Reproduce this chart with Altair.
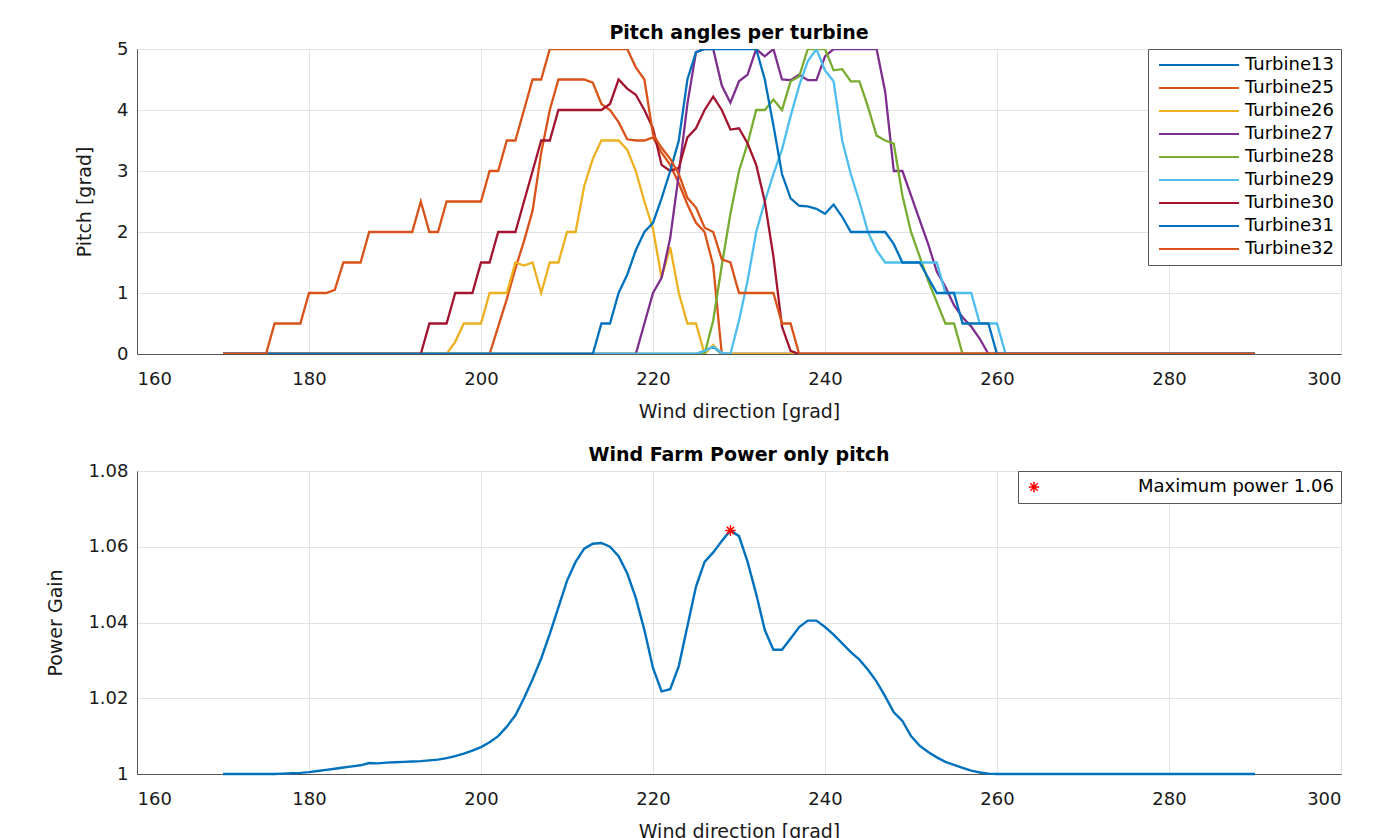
import altair as alt
import pandas as pd

# ---------------- data ----------------
deg = list(range(170, 291))

turbines = ["Turbine13", "Turbine25", "Turbine26", "Turbine27", "Turbine28",
            "Turbine29", "Turbine30", "Turbine31", "Turbine32"]
colors = ["#0072BD", "#D95319", "#EDB120", "#7E2F8E", "#77AC30",
          "#4DBEEE", "#A2142F", "#0072BD", "#D95319"]

# each series: first degree of the listed values; zero outside
t13_start, t13_vals = 226, [0.05, 0.12, 0.0]
t25_start, t25_vals = 201, [0.0, 0.45, 0.9, 1.4, 1.85, 2.35, 3.3, 4.0, 4.5, 4.5, 4.5, 4.5,
                            4.45, 4.1, 4.0, 3.8, 3.52, 3.5, 3.5, 3.55, 3.3, 3.1, 2.8, 2.45,
                            2.15, 2.0, 1.45, 0.0]
t26_start, t26_vals = 196, [0.0, 0.2, 0.5, 0.5, 0.5, 1.0, 1.0, 1.0, 1.5, 1.45, 1.5, 1.0, 1.5,
                            1.5, 2.0, 2.0, 2.75, 3.2, 3.5, 3.5, 3.5, 3.35, 3.0, 2.5, 2.05,
                            1.25, 1.75, 1.0, 0.5, 0.5, 0.0, 0.15, 0.0]
t27_start, t27_vals = 218, [0.0, 0.5, 1.0, 1.25, 1.9, 2.95, 4.1, 4.95, 5.0, 5.0, 4.4, 4.12,
                            4.47, 4.58, 5.0, 4.88, 5.0, 4.5, 4.49, 4.58, 4.49, 4.49, 4.88,
                            5.0, 5.0, 5.0, 5.0, 5.0, 5.0, 4.3, 3.0, 3.0, 2.6, 2.2, 1.8,
                            1.35, 1.1, 0.8, 0.6, 0.45, 0.25, 0.0]
t28_start, t28_vals = 226, [0.0, 0.55, 1.45, 2.3, 3.0, 3.45, 4.0, 4.0, 4.17, 4.0, 4.47, 4.55,
                            5.0, 5.0, 5.0, 4.65, 4.67, 4.47, 4.47, 4.05, 3.58, 3.5, 3.45,
                            2.6, 2.0, 1.6, 1.2, 0.85, 0.5, 0.5, 0.0]
t29_start, t29_vals = 226, [0.05, 0.12, 0.02, 0.0, 0.55, 1.2, 2.0, 2.5, 2.95, 3.35, 3.9, 4.4,
                            4.8, 5.0, 4.65, 4.47, 3.5, 2.95, 2.5, 2.0, 1.7, 1.5, 1.5, 1.5,
                            1.5, 1.5, 1.5, 1.5, 1.0, 1.0, 1.0, 1.0, 0.5, 0.5, 0.5, 0.0]
t30_start, t30_vals = 193, [0.0, 0.5, 0.5, 0.5, 1.0, 1.0, 1.0, 1.5, 1.5, 2.0, 2.0, 2.0, 2.5,
                            3.0, 3.5, 3.5, 4.0, 4.0, 4.0, 4.0, 4.0, 4.0, 4.1, 4.5, 4.35,
                            4.25, 4.0, 3.7, 3.1, 3.0, 3.05, 3.55, 3.7, 4.0, 4.22, 4.0, 3.68,
                            3.7, 3.45, 3.1, 2.5, 1.6, 0.45, 0.05, 0.0]
t31_start, t31_vals = 213, [0.0, 0.5, 0.5, 1.0, 1.3, 1.7, 2.0, 2.15, 2.55, 3.0, 3.5, 4.5,
                            4.95, 5.0, 5.0, 5.0, 5.0, 5.0, 5.0, 5.0, 4.5, 3.75, 2.95, 2.55,
                            2.43, 2.42, 2.38, 2.3, 2.45, 2.25, 2.0, 2.0, 2.0, 2.0, 2.0, 1.8,
                            1.5, 1.5, 1.5, 1.25, 1.0, 1.0, 1.0, 0.5, 0.5, 0.5, 0.5, 0.0]
t32_start, t32_vals = 175, [0.0, 0.5, 0.5, 0.5, 0.5, 1.0, 1.0, 1.0, 1.05, 1.5, 1.5, 1.5, 2.0,
                            2.0, 2.0, 2.0, 2.0, 2.0, 2.5, 2.0, 2.0, 2.5, 2.5, 2.5, 2.5, 2.5,
                            3.0, 3.0, 3.5, 3.5, 4.0, 4.5, 4.5, 5.0, 5.0, 5.0, 5.0, 5.0, 5.0,
                            5.0, 5.0, 5.0, 5.0, 4.7, 4.5, 3.6, 3.38, 3.2, 2.95, 2.56, 2.4,
                            2.07, 2.0, 1.55, 1.5, 1.0, 1.0, 1.0, 1.0, 1.0, 0.5, 0.5, 0.0]

power_start, power_vals = 177, [1.0001, 1.0002, 1.0003, 1.0005, 1.0008, 1.0011, 1.0014,
                                1.0017, 1.0020, 1.0023, 1.0029, 1.0028, 1.0030, 1.0031,
                                1.0032, 1.0033, 1.0034, 1.0036, 1.0038, 1.0042, 1.0047,
                                1.0054, 1.0062, 1.0071, 1.0084, 1.0100, 1.0125, 1.0155,
                                1.0200, 1.0250, 1.0305, 1.0370, 1.0440, 1.0510, 1.0560,
                                1.0595, 1.0608, 1.0610, 1.0600, 1.0575, 1.0530, 1.0465,
                                1.0380, 1.0280, 1.0218, 1.0224, 1.0285, 1.0390, 1.0495,
                                1.0560, 1.0585, 1.0615, 1.0643, 1.0628, 1.0560, 1.0475,
                                1.0380, 1.0328, 1.0328, 1.0358, 1.0388, 1.0405, 1.0405,
                                1.0388, 1.0368, 1.0345, 1.0322, 1.0302, 1.0275, 1.0244,
                                1.0205, 1.0163, 1.0140, 1.0100, 1.0075, 1.0058, 1.0044,
                                1.0032, 1.0024, 1.0016, 1.0009, 1.0004, 1.0001]

x_ticks = [160, 180, 200, 220, 240, 260, 280, 300]
pitch_ticks = [0, 1, 2, 3, 4, 5]
gain_ticks = [1.0, 1.02, 1.04, 1.06, 1.08]


def expand(start, vals, base):
    return [vals[d - start] if 0 <= d - start < len(vals) else base for d in deg]


specs = [(t13_start, t13_vals), (t25_start, t25_vals), (t26_start, t26_vals),
         (t27_start, t27_vals), (t28_start, t28_vals), (t29_start, t29_vals),
         (t30_start, t30_vals), (t31_start, t31_vals), (t32_start, t32_vals)]

rows = []
for name, (s, v) in zip(turbines, specs):
    for d, p in zip(deg, expand(s, v, 0.0)):
        rows.append({"deg": d, "pitch": p, "turbine": name})
pitch_df = pd.DataFrame(rows)

power_df = pd.DataFrame({"deg": deg, "gain": expand(power_start, power_vals, 1.0)})
imax = power_df["gain"].idxmax()
max_df = pd.DataFrame({"deg": [power_df.loc[imax, "deg"]],
                       "gain": [power_df.loc[imax, "gain"]],
                       "lbl": ["Maximum power %.2f" % power_df.loc[imax, "gain"]]})

FONT = "DejaVu Sans"
W, H1, H2 = 1204, 305, 303

# long horizontal legend line (custom path, scaled by sqrt(size)/2)
legend_line = "M-8,0L8,0"

x_top = alt.X("deg:Q", scale=alt.Scale(domain=[160, 300], nice=False),
              axis=alt.Axis(values=x_ticks, title="Wind direction [grad]", format="d"))

top = alt.Chart(pitch_df).mark_line(strokeWidth=2.3, clip=True).encode(
    x=x_top,
    y=alt.Y("pitch:Q", scale=alt.Scale(domain=[0, 5], nice=False),
            axis=alt.Axis(values=pitch_ticks, title="Pitch  [grad]")),
    color=alt.Color("turbine:N",
                    scale=alt.Scale(domain=turbines, range=colors),
                    legend=alt.Legend(title=None, orient="top-right", offset=0,
                                      symbolType=legend_line, symbolSize=100,
                                      symbolStrokeWidth=2, symbolOffset=35,
                                      labelFontSize=18,
                                      labelFont=FONT, rowPadding=5,
                                      padding=7, strokeColor="#555555",
                                      fillColor="white", labelOffset=37,
                                      labelLimit=300)),
).properties(width=W, height=H1,
             title=alt.TitleParams("Pitch angles per turbine", fontSize=19,
                                   font=FONT, fontWeight="bold", offset=-3))

x_bot = alt.X("deg:Q", scale=alt.Scale(domain=[160, 300], nice=False),
              axis=alt.Axis(values=x_ticks, title="Wind direction [grad]", format="d"))

line = alt.Chart(power_df).mark_line(strokeWidth=2.4, color="#0072BD").encode(
    x=x_bot,
    y=alt.Y("gain:Q", scale=alt.Scale(domain=[1.0, 1.08], nice=False, zero=False),
            axis=alt.Axis(values=gain_ticks, title="Power Gain", format="~g")),
)

star_path = "M-1,0L1,0M0,-1L0,1M-0.7,-0.7L0.7,0.7M-0.7,0.7L0.7,-0.7"
star = alt.Chart(max_df).mark_point(filled=False, color="red", strokeWidth=1.5, size=110,
                                    opacity=1).encode(
    x="deg:Q",
    y="gain:Q",
    shape=alt.Shape("lbl:N", scale=alt.Scale(range=[star_path]),
                    legend=alt.Legend(title=None, orient="top-right", offset=0,
                                      labelFontSize=18, labelFont=FONT,
                                      padding=7, strokeColor="#555555",
                                      fillColor="white", labelOffset=95,
                                      labelLimit=400,
                                      symbolSize=110, symbolStrokeWidth=1.5,
                                      symbolStrokeColor="red")),
)

bottom = alt.layer(line, star).properties(
    width=W, height=H2,
    title=alt.TitleParams("Wind Farm  Power only pitch", fontSize=19, font=FONT,
                          fontWeight="bold", offset=-3))

chart = alt.vconcat(top, bottom, spacing=23).resolve_scale(
    color="independent", shape="independent").resolve_legend(
    color="independent", shape="independent").configure(
    font=FONT, padding={"left": 46, "top": 23, "right": 30, "bottom": 0},
    background="white",
).configure_view(stroke="#555555", strokeWidth=1).configure_axis(
    labelFont=FONT, titleFont=FONT, labelFontSize=18, titleFontSize=19,
    labelColor="#1a1a1a", titleColor="#1a1a1a", titleFontWeight="normal",
    gridColor="#e3e3e3", gridWidth=1, domainColor="#555555", ticks=False,
).configure_axisX(labelPadding=16, titlePadding=14).configure_axisY(
    labelPadding=9, titlePadding=22)

chart.save("out.html", embed_options={"renderer": "svg", "actions": False})
